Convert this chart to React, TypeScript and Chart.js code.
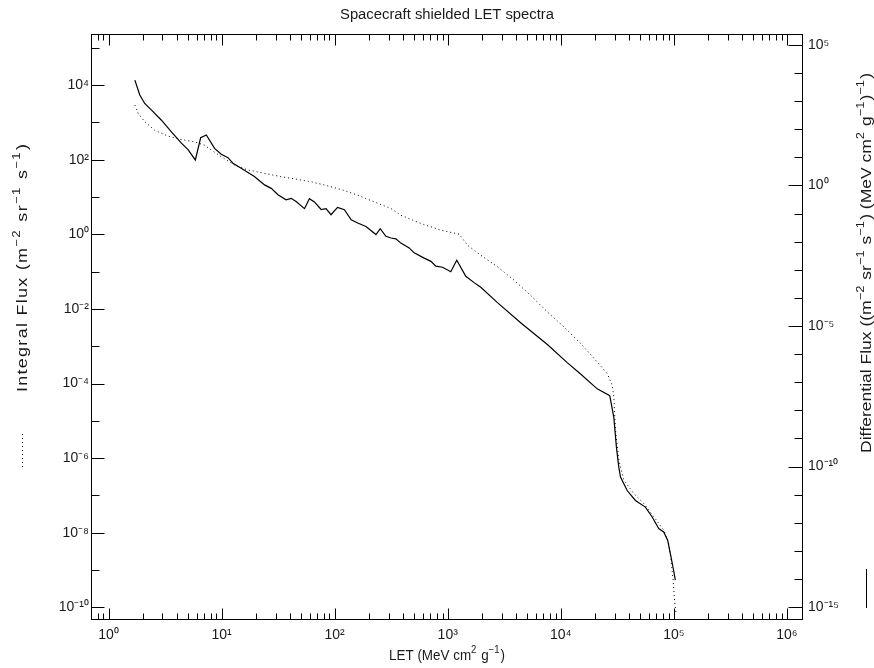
import { useEffect, useRef } from "react";
import { Chart, registerables } from "chart.js";

Chart.register(...registerables);

// ---- data ----
const diffLET = [1.71, 1.89, 2.09, 2.40, 2.94, 3.60, 4.41, 5.05, 5.86, 6.53, 7.33, 8.67, 9.93, 11.4, 12.6, 14.9, 19.5, 24.0, 27.5, 31.5, 37.2, 41.2, 45.6, 54.1, 59.8, 66.2, 75.9, 83.9, 92.9, 106, 122, 140, 160, 189, 232, 253, 284, 315, 348, 385, 456, 505, 619, 710, 785, 899, 1064, 1202, 1445, 1710, 1960, 2754, 4416, 7603, 11400, 14960, 20990, 27100, 29440, 31050, 32580, 33730, 38640, 45710, 55980, 64270, 73450, 81280, 88100, 94400, 99540, 103000];
const diffFlux = [5.6e3, 1.66e3, 830, 480, 210, 81, 32, 19, 8.1, 50, 63, 21, 13, 9.8, 6.2, 4.1, 2.1, 1.05, 0.79, 0.47, 0.31, 0.35, 0.27, 0.15, 0.34, 0.26, 0.14, 0.15, 0.091, 0.166, 0.138, 0.060, 0.046, 0.035, 0.018, 0.029, 0.0155, 0.0135, 0.0126, 0.0089, 0.0060, 0.0040, 0.0026, 0.0020, 0.00135, 0.00123, 8.5e-4, 2.2e-3, 5.9e-4, 3.5e-4, 2.4e-4, 6.8e-5, 1.3e-5, 2.2e-6, 5.0e-7, 1.95e-7, 5.8e-8, 3.3e-8, 5.6e-9, 4.8e-10, 9.5e-11, 4.2e-11, 1.4e-11, 6.2e-12, 3.6e-12, 1.6e-12, 6.2e-13, 4.7e-13, 2.4e-13, 6.0e-14, 2.0e-14, 9.1e-15];

const intLET = [1.71, 1.83, 2.09, 2.56, 3.37, 4.41, 5.78, 7.08, 8.11, 9.93, 13.0, 17.1, 24.0, 33.6, 47.2, 61.9, 81.1, 114, 160, 224, 315, 385, 579, 869, 1262, 1496, 1960, 2754, 3857, 5408, 7603, 10650, 14960, 20990, 25700, 28440, 29440, 30480, 32580, 36060, 44160, 54080, 66370, 81280, 89950, 94400, 98400, 101700, 104200];
const intFlux = [2900, 1740, 1050, 616, 427, 347, 300, 245, 182, 120, 72, 53, 43, 35, 29.6, 25.6, 21, 15.9, 11.2, 7.4, 4.9, 3.24, 1.95, 1.29, 1.01, 0.51, 0.275, 0.135, 0.059, 0.023, 0.0083, 0.0033, 0.00119, 3.8e-4, 1.86e-4, 9.1e-5, 4.4e-5, 5.6e-6, 8.9e-7, 2.6e-7, 1.12e-7, 6.1e-8, 2.7e-8, 1.18e-8, 5.2e-9, 1.85e-9, 5.4e-10, 1.4e-10, 7.4e-11];

// axis ranges (log10 exponents) and tick exponents
const xRangeExp = [-0.142, 6.142];
const yLeftRangeExp = [-10.34, 5.37];
const yRightRangeExp = [-15.46, 5.39];
const xTickExps = [-1, 0, 1, 2, 3, 4, 5, 6];
const yLeftTickExps = [-10, -9, -8, -7, -6, -5, -4, -3, -2, -1, 0, 1, 2, 3, 4, 5];
const yRightTickExps = [-15, -14, -13, -12, -11, -10, -9, -8, -7, -6, -5, -4, -3, -2, -1, 0, 1, 2, 3, 4, 5];

const TITLE = "Spacecraft shielded LET spectra";
const FONT = "'Liberation Sans', Arial, sans-serif";
const TXT = "#1a1a1a";

const SUP: Record<string, string> = { "0": "⁰", "1": "¹", "2": "²", "3": "³", "4": "⁴", "5": "⁵", "6": "⁶", "7": "⁷", "8": "⁸", "9": "⁹", "-": "⁻" };
const pow10Label = (e: number) => "10" + String(e).split("").map((c) => SUP[c]).join("");

const decadeExp = (v: number): number | null => {
  const e = Math.round(Math.log10(v));
  return Math.abs(v / Math.pow(10, e) - 1) < 1e-6 ? e : null;
};

type Seg = { t: string; sup?: boolean };

// draws text with raised exponents; fits a target length by a mild stretch plus letter spacing
function drawRich(ctx: CanvasRenderingContext2D, segs: Seg[], cx: number, cy: number, rot: number, size: number, target: number) {
  ctx.save();
  ctx.translate(cx, cy);
  ctx.rotate(rot);
  ctx.fillStyle = TXT;
  ctx.textBaseline = "alphabetic";
  ctx.textAlign = "left";
  const fontN = `${size}px ${FONT}`;
  const fontS = `${Math.round(size * 0.72)}px ${FONT}`;
  const chars: { c: string; sup: boolean; w: number }[] = [];
  let natural = 0;
  segs.forEach((s, si) => {
    ctx.font = s.sup ? fontS : fontN;
    for (const c of s.t) {
      const w = ctx.measureText(c).width;
      chars.push({ c, sup: !!s.sup, w });
      natural += w;
    }
    if (s.sup && si < segs.length - 1) natural += 1;
  });
  const sx = Math.max(0.85, Math.min(1.2, target / natural));
  const gap = chars.length > 1 ? Math.max(0, (target / sx - natural) / (chars.length - 1)) : 0;
  const total = natural + gap * (chars.length - 1);
  ctx.scale(sx, 1);
  let x = -total / 2;
  const base = size * 0.36;
  let prevSup = false;
  chars.forEach((ch) => {
    if (prevSup && !ch.sup) x += 1;
    ctx.font = ch.sup ? fontS : fontN;
    ctx.fillText(ch.c, x, ch.sup ? base - size * 0.5 : base);
    x += ch.w + gap;
    prevSup = ch.sup;
  });
  ctx.restore();
}

const idlPlugin = {
  id: "idlFrame",
  afterDraw(chart: any) {
    const ctx: CanvasRenderingContext2D = chart.ctx;
    const a = chart.chartArea;
    const L = Math.round(a.left) + 0.5;
    const R = Math.round(a.right) - 0.5;
    const T = Math.round(a.top) + 0.5;
    const B = Math.round(a.bottom) - 0.5;
    ctx.save();
    ctx.strokeStyle = "#000";
    ctx.lineWidth = 1;
    ctx.strokeRect(L, T, R - L, B - T);
    ctx.beginPath();
    const xs = chart.scales.x;
    xs.ticks.forEach((t: any) => {
      const px = Math.round(xs.getPixelForValue(t.value)) + 0.5;
      if (px < L || px > R) return;
      const len = decadeExp(t.value) !== null ? 11 : 6;
      ctx.moveTo(px, B); ctx.lineTo(px, B - len);
      ctx.moveTo(px, T); ctx.lineTo(px, T + len);
    });
    const yl = chart.scales.yL;
    yl.ticks.forEach((t: any) => {
      const py = Math.round(yl.getPixelForValue(t.value)) + 0.5;
      if (py < T || py > B) return;
      const e = decadeExp(t.value);
      const len = e !== null && e % 2 === 0 ? 13 : 8;
      ctx.moveTo(L, py); ctx.lineTo(L + len, py);
    });
    const yr = chart.scales.yR;
    yr.ticks.forEach((t: any) => {
      const py = Math.round(yr.getPixelForValue(t.value)) + 0.5;
      if (py < T || py > B) return;
      const e = decadeExp(t.value);
      const len = e !== null && e % 5 === 0 ? 14 : 8;
      ctx.moveTo(R, py); ctx.lineTo(R - len, py);
    });
    ctx.stroke();

    // title
    drawRich(ctx, [{ t: TITLE }], (a.left + a.right) / 2, 14, 0, 14, 214);
    // x title
    drawRich(ctx, [{ t: "LET (MeV cm" }, { t: "2", sup: true }, { t: " g" }, { t: "−1", sup: true }, { t: ")" }], (a.left + a.right) / 2, 655, 0, 14, 116);
    // left title
    drawRich(ctx, [{ t: "Integral Flux (m" }, { t: "−2", sup: true }, { t: " sr" }, { t: "−1", sup: true }, { t: " s" }, { t: "−1", sup: true }, { t: ")" }], 22, 268, -Math.PI / 2, 15, 248);
    // right title
    drawRich(ctx, [{ t: "Differential Flux ((m" }, { t: "−2", sup: true }, { t: " sr" }, { t: "−1", sup: true }, { t: " s" }, { t: "−1", sup: true }, { t: ") (MeV cm" }, { t: "2", sup: true }, { t: " g" }, { t: "−1", sup: true }, { t: ")" }, { t: "−1", sup: true }, { t: ")" }], 866, 263, -Math.PI / 2, 15, 380);

    // legend line samples
    ctx.beginPath();
    ctx.strokeStyle = "#000";
    ctx.setLineDash([1, 3]);
    ctx.moveTo(22.5, 434); ctx.lineTo(22.5, 467);
    ctx.stroke();
    ctx.setLineDash([]);
    ctx.beginPath();
    ctx.moveTo(866.5, 569); ctx.lineTo(866.5, 608);
    ctx.stroke();
    ctx.restore();
  },
};

function buildTicks(exps: number[], minor: boolean, lo: number, hi: number) {
  const out: { value: number }[] = [];
  exps.forEach((e) => {
    const ms = minor ? [1, 2, 3, 4, 5, 6, 7, 8, 9] : [1];
    ms.forEach((m) => {
      const v = m * Math.pow(10, e);
      if (v >= lo && v <= hi) out.push({ value: v });
    });
  });
  return out;
}

export default function App() {
  const ref = useRef<HTMLCanvasElement | null>(null);
  useEffect(() => {
    if (!ref.current) return;
    const xMin = Math.pow(10, xRangeExp[0]);
    const xMax = Math.pow(10, xRangeExp[1]);
    const lMin = Math.pow(10, yLeftRangeExp[0]);
    const lMax = Math.pow(10, yLeftRangeExp[1]);
    const rMin = Math.pow(10, yRightRangeExp[0]);
    const rMax = Math.pow(10, yRightRangeExp[1]);
    const tickFont = { family: FONT, size: 14 };
    const chart = new Chart(ref.current, {
      type: "scatter",
      data: {
        datasets: [
          {
            label: "Integral Flux",
            data: intLET.map((x, i) => ({ x, y: intFlux[i] })),
            yAxisID: "yL",
            showLine: true,
            borderColor: "#000",
            borderWidth: 1,
            borderDash: [1, 3],
            pointRadius: 0,
            tension: 0,
          },
          {
            label: "Differential Flux",
            data: diffLET.map((x, i) => ({ x, y: diffFlux[i] })),
            yAxisID: "yR",
            showLine: true,
            borderColor: "#000",
            borderWidth: 1.2,
            pointRadius: 0,
            tension: 0,
          },
        ],
      },
      options: {
        animation: false,
        responsive: false,
        layout: { padding: { top: 34, left: 0, right: 0, bottom: 0 } },
        plugins: { legend: { display: false }, tooltip: { enabled: false }, title: { display: false } },
        scales: {
          x: {
            type: "logarithmic",
            position: "bottom",
            min: xMin,
            max: xMax,
            grid: { display: false, drawTicks: false },
            border: { display: false },
            afterBuildTicks: (s: any) => { s.ticks = buildTicks(xTickExps, true, xMin, xMax); },
            afterFit: (s: any) => { s.height = 48; },
            ticks: {
              autoSkip: false,
              maxRotation: 0,
              padding: 7,
              color: TXT,
              font: tickFont,
              callback: (v: any) => { const e = decadeExp(Number(v)); return e === null ? "" : pow10Label(e); },
            },
          },
          yL: {
            type: "logarithmic",
            position: "left",
            min: lMin,
            max: lMax,
            grid: { display: false, drawTicks: false },
            border: { display: false },
            afterBuildTicks: (s: any) => { s.ticks = buildTicks(yLeftTickExps, false, lMin, lMax); },
            afterFit: (s: any) => { s.width = 91; },
            ticks: {
              autoSkip: false,
              padding: 2,
              color: TXT,
              font: tickFont,
              callback: (v: any) => { const e = decadeExp(Number(v)); return e !== null && e % 2 === 0 ? pow10Label(e) : ""; },
            },
          },
          yR: {
            type: "logarithmic",
            position: "right",
            min: rMin,
            max: rMax,
            grid: { display: false, drawTicks: false },
            border: { display: false },
            afterBuildTicks: (s: any) => { s.ticks = buildTicks(yRightTickExps, false, rMin, rMax); },
            afterFit: (s: any) => { s.width = 71; },
            ticks: {
              autoSkip: false,
              padding: 5,
              color: TXT,
              font: tickFont,
              callback: (v: any) => { const e = decadeExp(Number(v)); return e !== null && e % 5 === 0 ? pow10Label(e) : ""; },
            },
          },
        },
      },
      plugins: [idlPlugin],
    });
    return () => chart.destroy();
  }, []);
  return (
    <div style={{ position: "absolute", left: 0, top: 0, width: 874, height: 668, background: "#fff" }}>
      <canvas ref={ref} width={874} height={668} style={{ width: 874, height: 668, display: "block" }} />
    </div>
  );
}
